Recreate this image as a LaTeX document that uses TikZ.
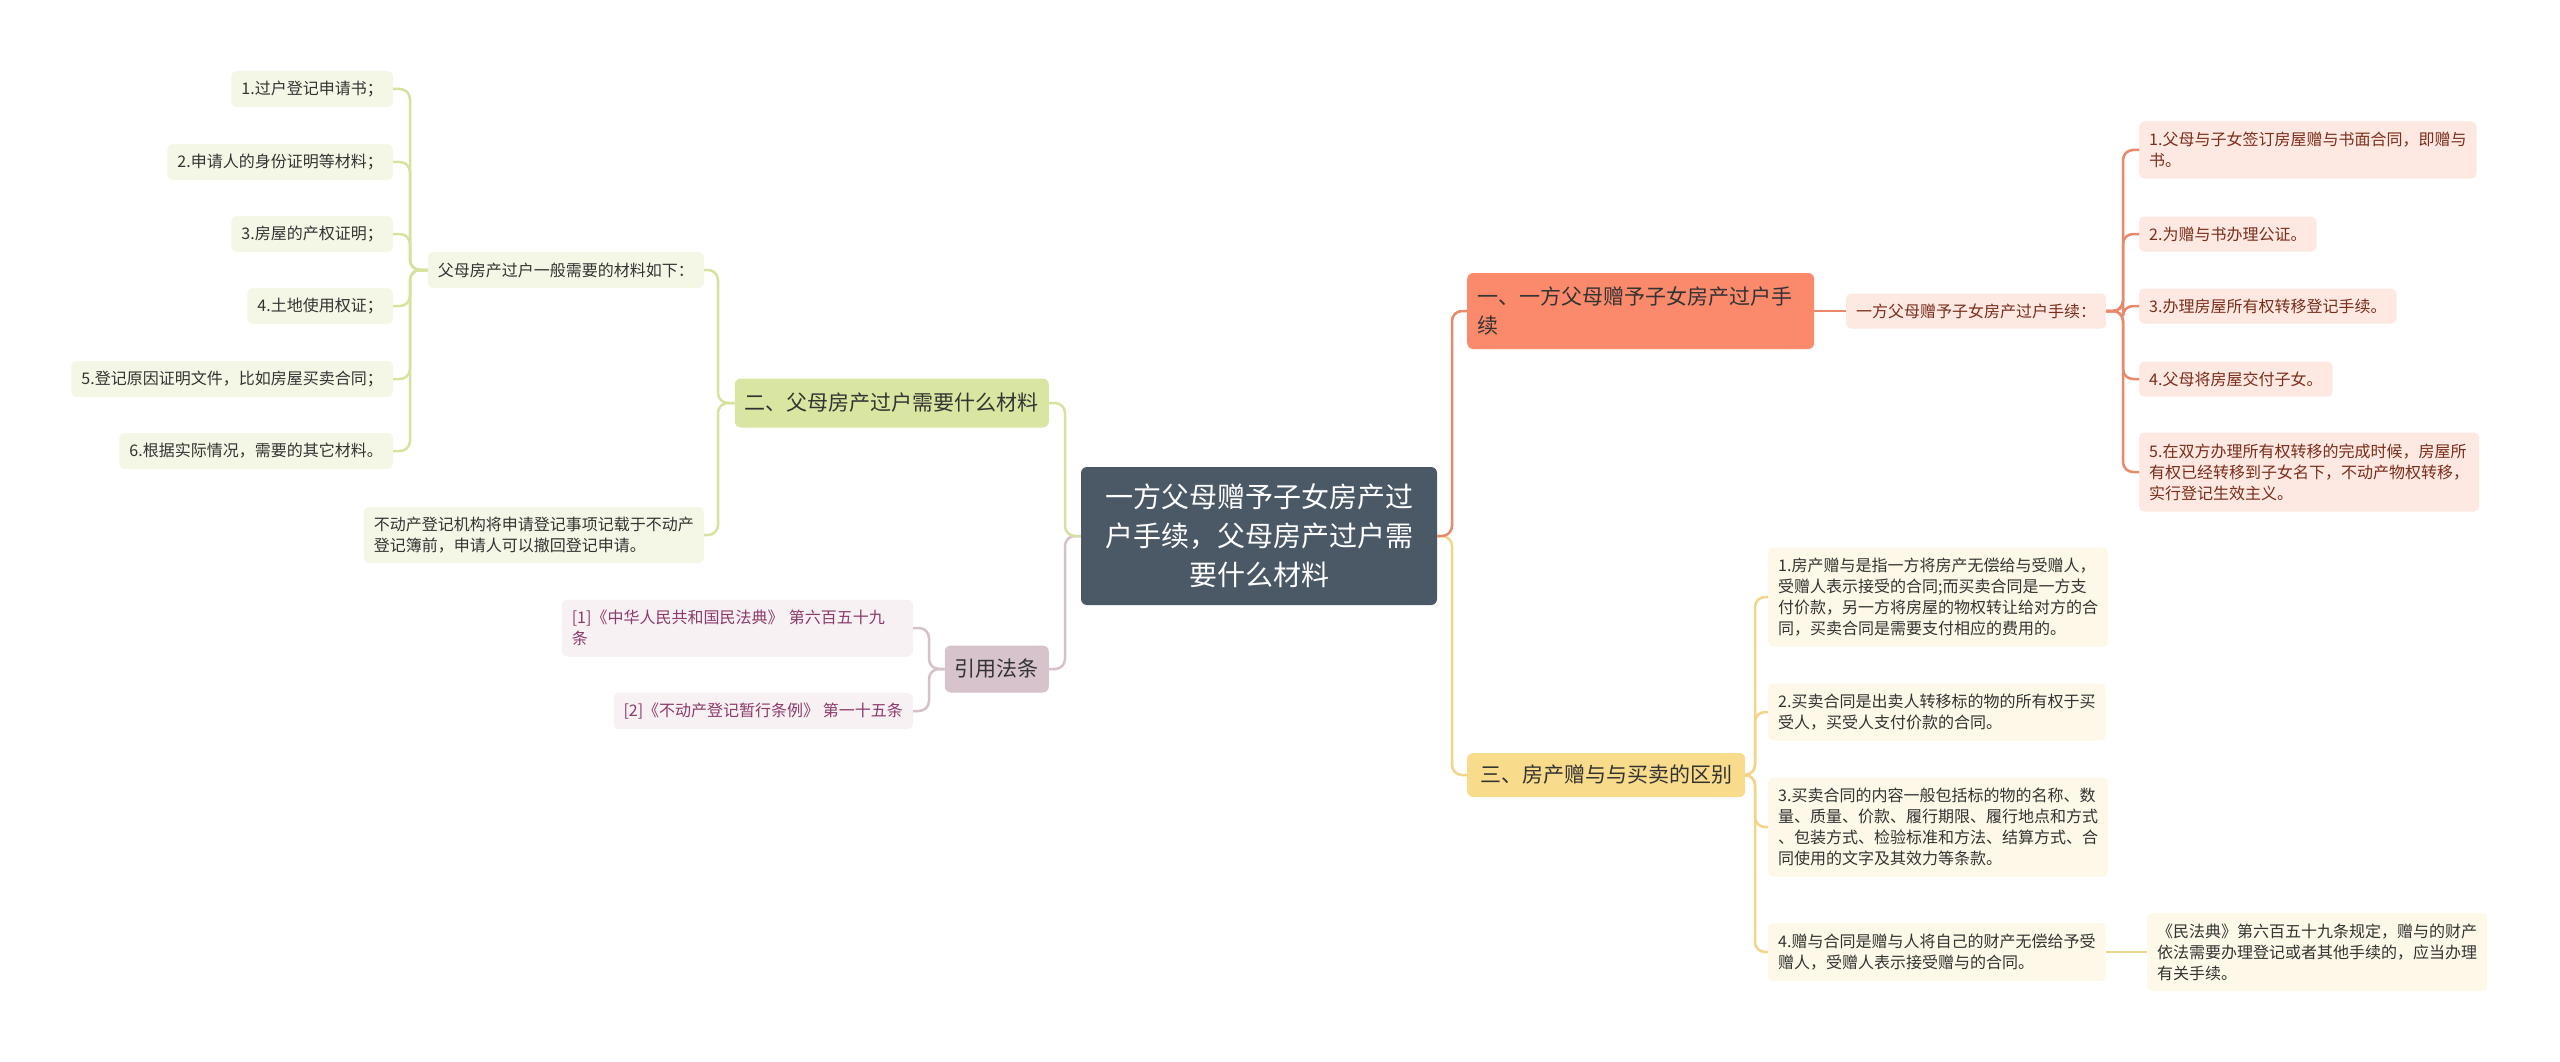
\documentclass[tikz,border=0pt]{standalone}
\usepackage{fontspec}
\setmainfont{Noto Sans CJK SC}
\definecolor{cCen}{HTML}{4B5866}
\definecolor{cOr}{HTML}{FA8A6B}
\definecolor{cOrL}{HTML}{FDE8E2}
\definecolor{cOrLine}{HTML}{E8896C}
\definecolor{cOrT}{HTML}{7A2E1A}
\definecolor{cYe}{HTML}{F8DB8B}
\definecolor{cYeL}{HTML}{FDF8E7}
\definecolor{cYeLine}{HTML}{F2D48A}
\definecolor{cGr}{HTML}{D8E6A1}
\definecolor{cGrL}{HTML}{F4F7E6}
\definecolor{cGrLine}{HTML}{D5E39E}
\definecolor{cMa}{HTML}{D7C3CC}
\definecolor{cMaL}{HTML}{F7F1F4}
\definecolor{cMaLine}{HTML}{D6C1CB}
\definecolor{cMaT}{HTML}{8C3A69}
\definecolor{cTxt}{HTML}{333333}
\tikzset{
  base/.style={rounded corners=5pt, inner xsep=10pt, inner ysep=4pt, align=left},
  central/.style={base, fill=cCen, text=white, align=center, rounded corners=6pt,
    font=\fontsize{28pt}{39pt}\selectfont},
  branch/.style={base, rounded corners=6pt, text=cTxt, font=\fontsize{21pt}{29pt}\selectfont},
  leaf/.style={base, font=\fontsize{16pt}{21pt}\selectfont},
  lfO/.style={leaf, fill=cOrL, text=cOrT},
  lfY/.style={leaf, fill=cYeL, text=cTxt},
  lfG/.style={leaf, fill=cGrL, text=cTxt},
  lfM/.style={leaf, fill=cMaL, text=cMaT},
  conn/.style={line width=2.5pt, rounded corners=10pt},
  lnO/.style={conn, draw=cOrLine},
  lnY/.style={conn, draw=cYeLine},
  lnG/.style={conn, draw=cGrLine},
  lnM/.style={conn, draw=cMaLine},
}
\begin{document}
\begin{tikzpicture}[x=1pt,y=-1pt]
\fill[white] (0,0) rectangle (2560,1062);
\useasboundingbox (0,0) rectangle (2560,1062);

% central
\node[central, minimum width=356pt, minimum height=138pt] (C) at (1259,536)
  {一方父母赠予子女房产过\\户手续，父母房产过户需\\要什么材料};

% branch one (orange)
\node[branch, fill=cOr, anchor=west, minimum height=76pt, text width=327pt] (B1) at (1467,311)
  {一、一方父母赠予子女房产过户手\\续};
\node[lfO, anchor=west, minimum height=35pt] (S1) at (1846,311) {一方父母赠予子女房产过户手续：};
\node[lfO, anchor=west, minimum height=57pt] (R1) at (2139,150) {1.父母与子女签订房屋赠与书面合同，即赠与\\书。};
\node[lfO, anchor=west, minimum height=35pt] (R2) at (2139,234) {2.为赠与书办理公证。};
\node[lfO, anchor=west, minimum height=35pt] (R3) at (2139,306) {3.办理房屋所有权转移登记手续。};
\node[lfO, anchor=west, minimum height=35pt] (R4) at (2139,379) {4.父母将房屋交付子女。};
\node[lfO, anchor=west, minimum height=79pt] (R5) at (2139,472) {5.在双方办理所有权转移的完成时候，房屋所\\有权已经转移到子女名下，不动产物权转移，\\实行登记生效主义。};

% branch three (yellow)
\node[branch, fill=cYe, anchor=west, minimum height=44pt, inner xsep=13pt] (B3) at (1467,775) {三、房产赠与与买卖的区别};
\node[lfY, anchor=west, minimum height=99pt] (Y1) at (1768,597) {1.房产赠与是指一方将房产无偿给与受赠人，\\受赠人表示接受的合同;而买卖合同是一方支\\付价款，另一方将房屋的物权转让给对方的合\\同，买卖合同是需要支付相应的费用的。};
\node[lfY, anchor=west, minimum height=57pt] (Y2) at (1768,712) {2.买卖合同是出卖人转移标的物的所有权于买\\受人，买受人支付价款的合同。};
\node[lfY, anchor=west, minimum height=99pt] (Y3) at (1768,827) {3.买卖合同的内容一般包括标的物的名称、数\\量、质量、价款、履行期限、履行地点和方式\\、包装方式、检验标准和方法、结算方式、合\\同使用的文字及其效力等条款。};
\node[lfY, anchor=west, minimum height=58pt] (Y4) at (1768,952) {4.赠与合同是赠与人将自己的财产无偿给予受\\赠人，受赠人表示接受赠与的合同。};
\node[lfY, anchor=west, minimum height=78pt] (Y5) at (2147,952) {《民法典》第六百五十九条规定，赠与的财产\\依法需要办理登记或者其他手续的，应当办理\\有关手续。};

% branch two (green)
\node[branch, fill=cGr, anchor=east, minimum height=49pt] (B2) at (1049,403) {二、父母房产过户需要什么材料};
\node[lfG, anchor=east, minimum height=36pt] (GS1) at (704,270) {父母房产过户一般需要的材料如下：};
\node[lfG, anchor=east, minimum height=36pt] (G1) at (393,89) {1.过户登记申请书；};
\node[lfG, anchor=east, minimum height=36pt] (G2) at (393,162) {2.申请人的身份证明等材料；};
\node[lfG, anchor=east, minimum height=36pt] (G3) at (393,234) {3.房屋的产权证明；};
\node[lfG, anchor=east, minimum height=36pt] (G4) at (393,306) {4.土地使用权证；};
\node[lfG, anchor=east, minimum height=36pt] (G5) at (393,379) {5.登记原因证明文件，比如房屋买卖合同；};
\node[lfG, anchor=east, minimum height=36pt] (G6) at (393,451) {6.根据实际情况，需要的其它材料。};
\node[lfG, anchor=east, minimum height=56pt] (GS2) at (704,535) {不动产登记机构将申请登记事项记载于不动产\\登记簿前，申请人可以撤回登记申请。};

% branch quote (mauve)
\node[branch, fill=cMa, anchor=east, minimum height=47pt] (Q) at (1049,669) {引用法条};
\node[lfM, anchor=east, minimum height=57pt, text width=331pt] (Q1) at (913,628) {[1]《中华人民共和国民法典》 第六百五十九\\条};
\node[lfM, anchor=east, minimum height=36pt] (Q2) at (913,711) {[2]《不动产登记暂行条例》 第一十五条};

% junction coordinates
\coordinate (jC) at (1452,536);
\coordinate (jL) at (1065,536);
\coordinate (jR) at (2123,311);
\coordinate (jY) at (1755,775);
\coordinate (jG) at (718,403);
\coordinate (jG2) at (410,270);
\coordinate (jQ) at (929,669);

% connectors
\draw[lnY] (C.east) -- (jC) |- (B3.west);
\draw[lnO] (C.east) -- (jC) |- (B1.west);
\draw[lnO] (B1.east) -- (S1.west);
\foreach \n in {R1,R2,R3,R4,R5} \draw[lnO] (S1.east) -- (jR) |- (\n.west);
\foreach \n in {Y1,Y2,Y3,Y4} \draw[lnY] (B3.east) -- (jY) |- (\n.west);
\draw[lnY] (Y4.east) -- (Y5.west);
\draw[lnM] (C.west) -- (jL) |- (Q.east);
\draw[lnG] (C.west) -- (jL) |- (B2.east);
\draw[lnG] (B2.west) -- (jG) |- (GS1.east);
\draw[lnG] (B2.west) -- (jG) |- (GS2.east);
\foreach \n in {G1,G2,G3,G4,G5,G6} \draw[lnG] (GS1.west) -- (jG2) |- (\n.east);
\draw[lnM] (Q.west) -- (jQ) |- (Q1.east);
\draw[lnM] (Q.west) -- (jQ) |- (Q2.east);
\end{tikzpicture}
\end{document}
